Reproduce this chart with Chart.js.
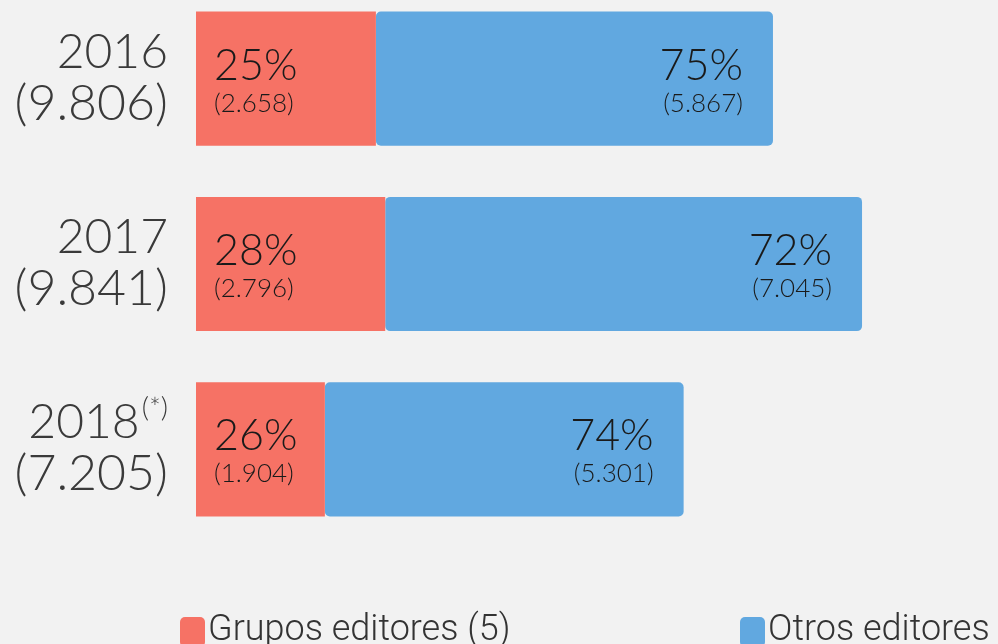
<!DOCTYPE html>
<html>
<head>
<meta charset="utf-8">
<script src="https://cdn.jsdelivr.net/npm/chart.js@4.4.1/dist/chart.umd.min.js"></script>
<style>
    html, body { margin: 0; padding: 0; background: #f2f2f2; overflow: hidden; }
    #wrap { position: absolute; left: 0; top: -14px; width: 998px; height: 658px; }
</style>
</head>
<body>
<div id="wrap"><canvas id="marketChart"></canvas></div>
<script>
// data
const years = ['2016', '2017', '2018'];
const yearNotes = ['', '', '(*)'];
const totals = [9806, 9841, 7205];
const grupos = [2658, 2796, 1904];
const otros = [5867, 7045, 5301];
const pctGrupos = [25, 28, 26];
const pctOtros = [75, 72, 74];
const seriesNames = ['Grupos editores (5)', 'Otros editores'];

const red = '#f67265';
const blue = '#61a8e0';
const FONT = 'Lato, "DejaVu Sans", sans-serif';

function fmt(n) {
    return String(n).replace(/\B(?=(\d{3})+(?!\d))/g, '.');
}

// year labels on the left (with superscript note)
const yearLabels = {
    id: 'yearLabels',
    afterDraw(chart) {
        const ctx = chart.ctx;
        const y = chart.scales.y;
        const right = 168;
        ctx.save();
        ctx.fillStyle = '#3a3a3a';
        ctx.textAlign = 'right';
        ctx.textBaseline = 'alphabetic';
        years.forEach((yr, i) => {
            const cy = y.getPixelForValue(i);
            let x = right;
            if (yearNotes[i]) {
                ctx.font = '300 28px ' + FONT;
                ctx.fillText(yearNotes[i], x, cy - 32);
                x -= ctx.measureText(yearNotes[i]).width + 2;
            }
            ctx.font = '300 48px ' + FONT;
            ctx.fillText(yr, x, cy - 11);
            ctx.font = '300 50px ' + FONT;
            ctx.fillText('(' + fmt(totals[i]) + ')', right, cy + 41);
        });
        ctx.restore();
    }
};

// percent + count inside the bars
const barLabels = {
    id: 'barLabels',
    afterDatasetsDraw(chart) {
        const ctx = chart.ctx;
        const pcts = [pctGrupos, pctOtros];
        const vals = [grupos, otros];
        ctx.save();
        ctx.fillStyle = '#1a1a1a';
        ctx.textBaseline = 'alphabetic';
        chart.data.datasets.forEach((ds, d) => {
            chart.getDatasetMeta(d).data.forEach((bar, i) => {
                let x;
                if (d === 0) {
                    ctx.textAlign = 'left';
                    x = Math.min(bar.base, bar.x) + 18;
                } else {
                    ctx.textAlign = 'right';
                    x = Math.max(bar.base, bar.x) - 30;
                }
                ctx.font = '300 43px ' + FONT;
                ctx.fillText(pcts[d][i] + '%', x, bar.y + 1);
                ctx.font = '300 26px ' + FONT;
                ctx.fillText('(' + fmt(vals[d][i]) + ')', x, bar.y + 33);
            });
        });
        ctx.restore();
    }
};

// legend at the bottom
const bottomLegend = {
    id: 'bottomLegend',
    afterDraw(chart) {
        const ctx = chart.ctx;
        const items = [{ x: 180, color: red }, { x: 740, color: blue }];
        const base = chart.height - 4;
        ctx.save();
        ctx.textAlign = 'left';
        ctx.textBaseline = 'alphabetic';
        ctx.font = '300 36px Roboto, sans-serif';
        items.forEach((it, i) => {
            ctx.fillStyle = it.color;
            ctx.beginPath();
            ctx.roundRect(it.x, base - 23, 25, 30, 5);
            ctx.fill();
            ctx.fillStyle = '#333333';
            ctx.fillText(seriesNames[i], it.x + 28, base);
        });
        ctx.restore();
    }
};

const ctx = document.getElementById('marketChart').getContext('2d');
const marketChart = new Chart(ctx, {
    type: 'bar',
    data: {
        labels: years,
        datasets: [{
            label: seriesNames[0],
            data: grupos,
            backgroundColor: red,
            borderWidth: 0,
            borderRadius: 0
        }, {
            label: seriesNames[1],
            data: otros,
            backgroundColor: blue,
            borderWidth: 0,
            borderSkipped: false,
            borderRadius: { topLeft: 5, topRight: 5, bottomLeft: 5, bottomRight: 5 }
        }]
    },
    options: {
        indexAxis: 'y',
        responsive: true,
        maintainAspectRatio: false,
        animation: false,
        layout: {
            padding: { left: 196, right: 0, top: 0, bottom: 102 }
        },
        datasets: {
            bar: { barPercentage: 0.724, categoryPercentage: 1 }
        },
        scales: {
            x: { stacked: true, min: 0, max: 11850, display: false },
            y: { stacked: true, display: false }
        },
        plugins: {
            legend: { display: false },
            tooltip: { enabled: false }
        }
    },
    plugins: [yearLabels, barLabels, bottomLegend]
});
</script>
</body>
</html>
